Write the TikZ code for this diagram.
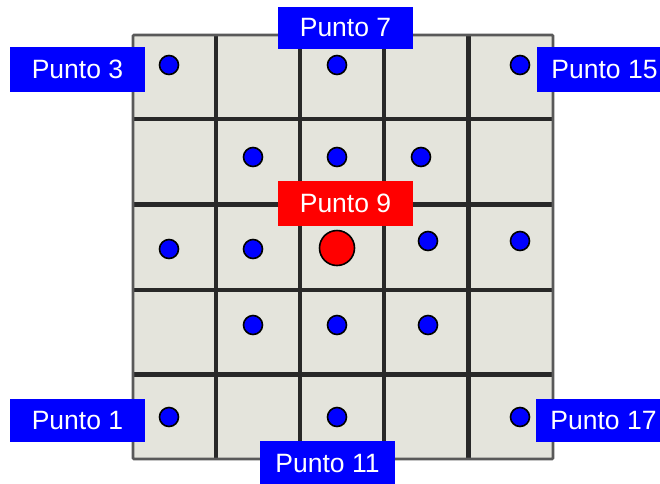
\documentclass[tikz,border=0pt]{standalone}
\usepackage{fontspec}
\setmainfont{Liberation Sans}
\definecolor{cellfill}{RGB}{228,228,220}
\definecolor{gridline}{RGB}{40,40,40}
\definecolor{pblue}{RGB}{0,0,255}
\definecolor{pred}{RGB}{255,0,0}
\tikzset{
  thinline/.style={draw=gridline, line width=3.3pt},
  thickline/.style={draw=gridline, line width=5pt},
  dot/.style={circle, fill=pblue, draw=black, line width=1.6pt, minimum size=19pt, inner sep=0pt},
  bigdot/.style={circle, fill=pred, draw=black, line width=1.6pt, minimum size=35pt, inner sep=0pt},
  lbl/.style={fill=pblue, text=white, minimum width=135pt, minimum height=45pt, inner sep=0pt, font=\fontsize{26.5}{30}\selectfont},
  lblred/.style={lbl, fill=pred}
}
\begin{document}
\begin{tikzpicture}[x=1pt,y=-1pt]
\clip (0,0) rectangle (660,483);
\fill[white] (0,0) rectangle (660,483);
% board
\fill[cellfill] (133,35) rectangle (553,459);
% thin lines
\foreach \x in {216,300,384} \draw[thinline] (\x,35) -- (\x,459);
\foreach \y in {119,290} \draw[thinline] (133,\y) -- (553,\y);
% thick lines
\draw[thickline] (468,35) -- (468,459);
\foreach \y in {204,374} \draw[thickline] (133,\y) -- (553,\y);
% border
\draw[draw=black!65, line width=2.6pt, rounded corners=1pt] (133,35) rectangle (553,459);
% dots
\node[dot] (d1) at (169,65) {};
\node[dot] (d2) at (337,65) {};
\node[dot] (d3) at (520,65) {};
\node[dot] (d4) at (253,157) {};
\node[dot] (d5) at (337,157) {};
\node[dot] (d6) at (421,157) {};
\node[dot] (d7) at (169,249) {};
\node[dot] (d8) at (253,249) {};
\node[bigdot] (d9) at (337,248) {};
\node[dot] (d10) at (428,241) {};
\node[dot] (d11) at (520,241) {};
\node[dot] (d12) at (253,325) {};
\node[dot] (d13) at (337,325) {};
\node[dot] (d14) at (428,325) {};
\node[dot] (d15) at (169,417) {};
\node[dot] (d16) at (337,417) {};
\node[dot] (d17) at (520,417) {};
% labels
\node[lbl, minimum height=42pt] (p7) at (345.5,28) {Punto 7};
\node[lbl] (p3) at (77.5,69.5) {Punto 3};
\node[lbl] (p15) at (604.5,69.5) {Punto 15};
\node[lblred] (p9) at (345.5,203.5) {Punto 9};
\node[lbl, minimum height=43pt] (p1) at (77.5,420.5) {Punto 1};
\node[lbl, minimum height=43pt] (p17) at (603.5,420.5) {Punto 17};
\node[lbl] (p11) at (327.5,463.5) {Punto 11};
\end{tikzpicture}
\end{document}
